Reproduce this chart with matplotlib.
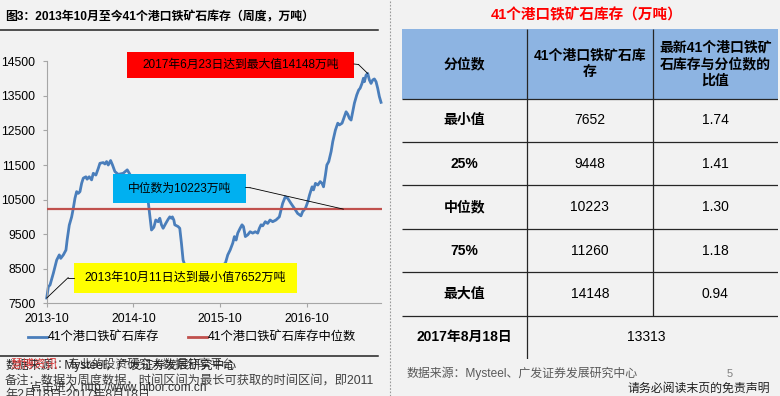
import matplotlib
matplotlib.use('Agg')
import matplotlib.pyplot as plt
import matplotlib.dates as mdates
from matplotlib.patches import Rectangle, ConnectionPatch
from matplotlib.lines import Line2D
import pandas as pd

plt.rcParams['font.family'] = ['Liberation Sans', 'Noto Sans CJK SC']

# ---------------- data ----------------
dates = [
    '2013-10-11', '2013-10-18', '2013-10-25', '2013-11-08', '2013-11-22', '2013-12-03', '2013-12-09',
    '2013-12-20', '2013-12-31', '2014-01-05', '2014-01-14', '2014-01-24', '2014-01-31', '2014-02-07',
    '2014-02-14', '2014-02-21', '2014-02-28', '2014-03-07', '2014-03-14', '2014-03-25', '2014-03-30',
    '2014-04-08', '2014-04-18', '2014-04-25', '2014-05-06', '2014-05-16', '2014-05-23', '2014-06-06',
    '2014-06-13', '2014-06-20', '2014-06-27', '2014-07-07', '2014-07-15', '2014-07-25', '2014-08-08',
    '2014-08-29', '2014-09-15', '2014-10-03', '2014-10-24', '2014-11-14', '2014-12-05', '2014-12-12',
    '2014-12-22', '2014-12-26', '2015-01-05', '2015-01-13', '2015-01-23', '2015-01-30', '2015-02-06',
    '2015-02-13', '2015-02-24', '2015-03-06', '2015-03-13', '2015-03-20', '2015-03-24', '2015-03-30',
    '2015-04-03', '2015-04-17', '2015-04-24', '2015-05-01', '2015-05-08', '2015-05-15', '2015-06-05',
    '2015-06-26', '2015-07-17', '2015-08-07', '2015-08-28', '2015-09-18', '2015-10-09', '2015-11-02',
    '2015-11-12', '2015-11-22', '2015-12-03', '2015-12-10', '2015-12-17', '2015-12-24', '2016-01-03',
    '2016-01-11', '2016-01-17', '2016-01-25', '2016-02-04', '2016-02-14', '2016-02-25', '2016-03-07',
    '2016-03-17', '2016-03-24', '2016-03-31', '2016-04-07', '2016-04-18', '2016-04-28', '2016-05-08',
    '2016-05-19', '2016-06-02', '2016-06-16', '2016-06-23', '2016-06-30', '2016-07-11', '2016-07-21',
    '2016-08-04', '2016-08-18', '2016-09-01', '2016-09-15', '2016-09-22', '2016-10-04', '2016-10-14',
    '2016-10-21', '2016-11-01', '2016-11-07', '2016-11-15', '2016-11-25', '2016-12-05', '2016-12-13',
    '2016-12-19', '2016-12-27', '2017-01-02', '2017-01-10', '2017-01-20', '2017-01-27', '2017-02-07',
    '2017-02-17', '2017-02-24', '2017-03-07', '2017-03-17', '2017-03-24', '2017-03-31', '2017-04-07',
    '2017-04-14', '2017-04-21', '2017-04-28', '2017-05-08', '2017-05-16', '2017-05-22', '2017-05-30',
    '2017-06-05', '2017-06-09', '2017-06-16', '2017-06-23', '2017-06-30', '2017-07-07', '2017-07-14',
    '2017-07-21', '2017-07-28', '2017-08-04', '2017-08-11', '2017-08-18',
]
inventory = [
    7652, 7980, 8030, 8370, 8750, 8900, 8800,
    8900, 9040, 9330, 9760, 10000, 10250, 10540,
    10730, 10680, 10730, 10970, 11120, 11160, 11090,
    11160, 11070, 11260, 11210, 11400, 11550, 11570,
    11530, 11600, 11500, 11630, 11500, 11310, 11230,
    11260, 11360, 11150, 10950, 10750, 10520, 10450,
    9860, 9620, 9700, 9910, 9860, 9960, 9770,
    9670, 9810, 9930, 10000, 9960, 10000, 9910,
    9770, 9720, 9670, 9240, 8750, 8610, 8350,
    8200, 8100, 8300, 8250, 8450, 8550, 8660,
    8900, 9040, 9240, 9430, 9330, 9530, 9670,
    9770, 9720, 9430, 9480, 9570, 9530, 9570,
    9530, 9670, 9770, 9740, 9860, 9810, 9910,
    9860, 9910, 10000, 10200, 10390, 10580, 10540,
    10390, 10250, 10100, 10030, 10150, 10250, 10440,
    10630, 10870, 10780, 10970, 10920, 11020, 10970,
    10870, 11210, 11500, 11600, 11890, 12180, 12510,
    12710, 12660, 12710, 12900, 13040, 12970, 12850,
    12800, 13040, 13290, 13530, 13670, 13720, 13860,
    14010, 13910, 14100, 14148, 13960, 13860, 13960,
    13990, 13910, 13720, 13480, 13313,
]
median_value = 10223
min_date, min_value = '2013-10-11', 7652
max_date, max_value = '2017-06-23', 14148
median_anchor_date = '2017-03-13'

x_tick_dates = ['2013-10-11', '2014-10-11', '2015-10-11', '2016-10-11']
y_ticks = [7500, 8500, 9500, 10500, 11500, 12500, 13500, 14500]

series_label = '41个港口铁矿石库存'
median_label = '41个港口铁矿石库存中位数'
chart_title = '图3：2013年10月至今41个港口铁矿石库存（周度，万吨）'
max_note = '2017年6月23日达到最大值14148万吨'
median_note = '中位数为10223万吨'
min_note = '2013年10月11日达到最小值7652万吨'

table_title = '41个港口铁矿石库存（万吨）'
table_header = ['分位数', '41个港口铁矿石库\n存', '最新41个港口铁矿\n石库存与分位数的\n比值']
row_labels = ['最小值', '25%', '中位数', '75%', '最大值']
row_inventory = [7652, 9448, 10223, 11260, 14148]
row_ratio = ['1.74', '1.41', '1.30', '1.18', '0.94']
latest_label = '2017年8月18日'
latest_value = 13313

# ---------------- figure ----------------
W, H = 780, 396
BG = '#f2f2f2'
fig = plt.figure(figsize=(W / 100, H / 100), dpi=100, facecolor=BG)


def fx(x):
    return x / W


def fy(y):
    return 1 - y / H


# ---- left chart ----
ax = fig.add_axes([fx(46.7), fy(303.3), fx(381.5) - fx(46.7), fy(61.3) - fy(303.3)])
ax.set_facecolor('none')
d = pd.to_datetime(dates)
ax.plot(d, inventory, color='#4a7ebb', lw=2.0, solid_joinstyle='round', zorder=2, clip_on=False)
ax.axhline(median_value, color='#c0504d', lw=1.6, zorder=3)
ax.set_ylim(7500, 14500)
ax.set_xlim(pd.Timestamp('2013-10-11'), pd.Timestamp('2017-08-20'))
ax.set_yticks(y_ticks)
ax.set_xticks(pd.to_datetime(x_tick_dates))
ax.xaxis.set_major_formatter(mdates.DateFormatter('%Y-%m'))
for s in ['top', 'right']:
    ax.spines[s].set_visible(False)
for s in ['left', 'bottom']:
    ax.spines[s].set_color('#a6a6a6')
    ax.spines[s].set_linewidth(0.8)
ax.tick_params(axis='both', direction='out', length=3, width=0.8, color='#a6a6a6',
               labelsize=8.8, labelcolor='black')
ax.tick_params(axis='y', pad=5)
ax.tick_params(axis='x', pad=4)


def box(x0, y0, x1, y1, color, text, fs):
    fig.add_artist(Rectangle((fx(x0), fy(y1)), fx(x1) - fx(x0), fy(y0) - fy(y1),
                             transform=fig.transFigure, facecolor=color, edgecolor='none', zorder=4))
    fig.text(fx((x0 + x1) / 2), fy((y0 + y1) / 2), text, ha='center', va='center',
             fontsize=fs, color='black', zorder=5)


def leader(p0, elbow, date, val):
    fig.add_artist(Line2D([fx(p0[0]), fx(elbow[0])], [fy(p0[1]), fy(elbow[1])],
                          transform=fig.transFigure, color='black', lw=0.6, zorder=6))
    cp = ConnectionPatch(xyA=(fx(elbow[0]), fy(elbow[1])), coordsA=fig.transFigure,
                         xyB=(mdates.date2num(pd.Timestamp(date)), val), coordsB=ax.transData,
                         color='black', lw=0.6, zorder=6)
    fig.add_artist(cp)


box(127, 52, 354, 78, '#ff0000', max_note, 8.5)
leader((354, 64), (358.5, 64.5), max_date, max_value)
box(113.3, 174.3, 245.7, 202.7, '#00b0f0', median_note, 8.5)
leader((245.7, 187.5), (250, 187.7), median_anchor_date, median_value)
box(74, 263.3, 296.7, 293.3, '#ffff00', min_note, 8.7)
leader((74, 277.5), (68.3, 277.5), min_date, min_value)

# title + rules
fig.text(fx(5), fy(17), chart_title, fontsize=8.6, fontweight='bold', ha='left', va='center')
fig.add_artist(Line2D([0, fx(378)], [fy(30), fy(30)], transform=fig.transFigure, color='#222222', lw=1.1))
fig.add_artist(Line2D([0, fx(378)], [fy(356), fy(356)], transform=fig.transFigure, color='#222222', lw=1.1))

# legend
fig.add_artist(Line2D([fx(28), fx(47)], [fy(337), fy(337)], transform=fig.transFigure, color='#4a7ebb', lw=2.0))
fig.text(fx(48), fy(337), series_label, fontsize=8.8, ha='left', va='center')
fig.add_artist(Line2D([fx(188), fx(207)], [fy(337), fy(337)], transform=fig.transFigure, color='#c0504d', lw=2.0))
fig.text(fx(208), fy(337), median_label, fontsize=8.8, ha='left', va='center')

# footer (overlapping texts as in the source page)
fig.text(fx(5), fy(365), '数据来源：Mysteel，广发证券发展研究中心', fontsize=8.6, ha='left', va='center', color='#202020')
fig.text(fx(10), fy(365), '慧博资讯', fontsize=8.6, ha='left', va='center', color='#e04040')
fig.text(fx(57), fy(365), '：专业的投资研究大数据分享平台', fontsize=8.6, ha='left', va='center', color='#202020', alpha=0.85)
fig.text(fx(5), fy(380.5), '备注：数据为周度数据，时间区间为最长可获取的时间区间，即2011', fontsize=8.8,
         ha='left', va='center', color='#404040')
fig.text(fx(5), fy(395), '年2月18日-2017年8月18日', fontsize=8.8, ha='left', va='center', color='#404040')
fig.text(fx(30), fy(388), '点击进入 http://www.hibor.com.cn', fontsize=8.6, ha='left', va='center', color='#303030')

# separator
fig.add_artist(Line2D([fx(389.5), fx(389.5)], [0, 1], transform=fig.transFigure, color='#9a9a9a',
                      lw=0.8, linestyle=(0, (1.5, 1.5))))

# ---- right table ----
fig.text(fx(586.7), fy(15), table_title, fontsize=10.5, fontweight='bold', color='#ff0000',
         ha='center', va='center')

header_h = 1.6
n_rows = len(row_labels) + 1
tax = fig.add_axes([fx(401.7), fy(359), fx(778) - fx(401.7), fy(29.3) - fy(359)])
tax.set_xlim(0, 3)
tax.set_ylim(header_h + n_rows, 0)
tax.axis('off')
tax.add_patch(Rectangle((0, 0), 3, header_h, facecolor='#8db4e2', edgecolor='none', zorder=1))
line_kw = dict(color='#262626', lw=0.9, zorder=3, solid_capstyle='butt')
for k in range(n_rows):
    yline = header_h + k
    tax.plot([0, 3], [yline, yline], **line_kw)
tax.plot([1, 1], [0, header_h + n_rows], **line_kw)
tax.plot([2, 2], [0, header_h + n_rows - 1], **line_kw)

for j, htxt in enumerate(table_header):
    tax.text(j + 0.5, header_h / 2, htxt, ha='center', va='center', fontsize=10,
             fontweight='bold', linespacing=1.2, zorder=4)

for i, lab in enumerate(row_labels):
    yc = header_h + i + 0.5
    tax.text(0.5, yc, lab, ha='center', va='center', fontsize=10, fontweight='bold', zorder=4)
    tax.text(1.5, yc, str(row_inventory[i]), ha='center', va='center', fontsize=10, zorder=4)
    tax.text(2.5, yc, row_ratio[i], ha='center', va='center', fontsize=10, zorder=4)

yc = header_h + len(row_labels) + 0.5
tax.text(0.5, yc, latest_label, ha='center', va='center', fontsize=10, fontweight='bold', zorder=4)
tax.text(1.95, yc, str(latest_value), ha='center', va='center', fontsize=10, zorder=4)

fig.text(fx(406.7), fy(373), '数据来源：Mysteel、广发证券发展研究中心', fontsize=8.6, ha='left',
         va='center', color='#595959')
fig.text(fx(730), fy(374), '5', fontsize=8, ha='center', va='center', color='#808080')
fig.text(fx(770), fy(389), '请务必阅读末页的免责声明', fontsize=8.6, ha='right', va='center', color='#202020')

fig.savefig('out.png', dpi=100, facecolor=BG)
